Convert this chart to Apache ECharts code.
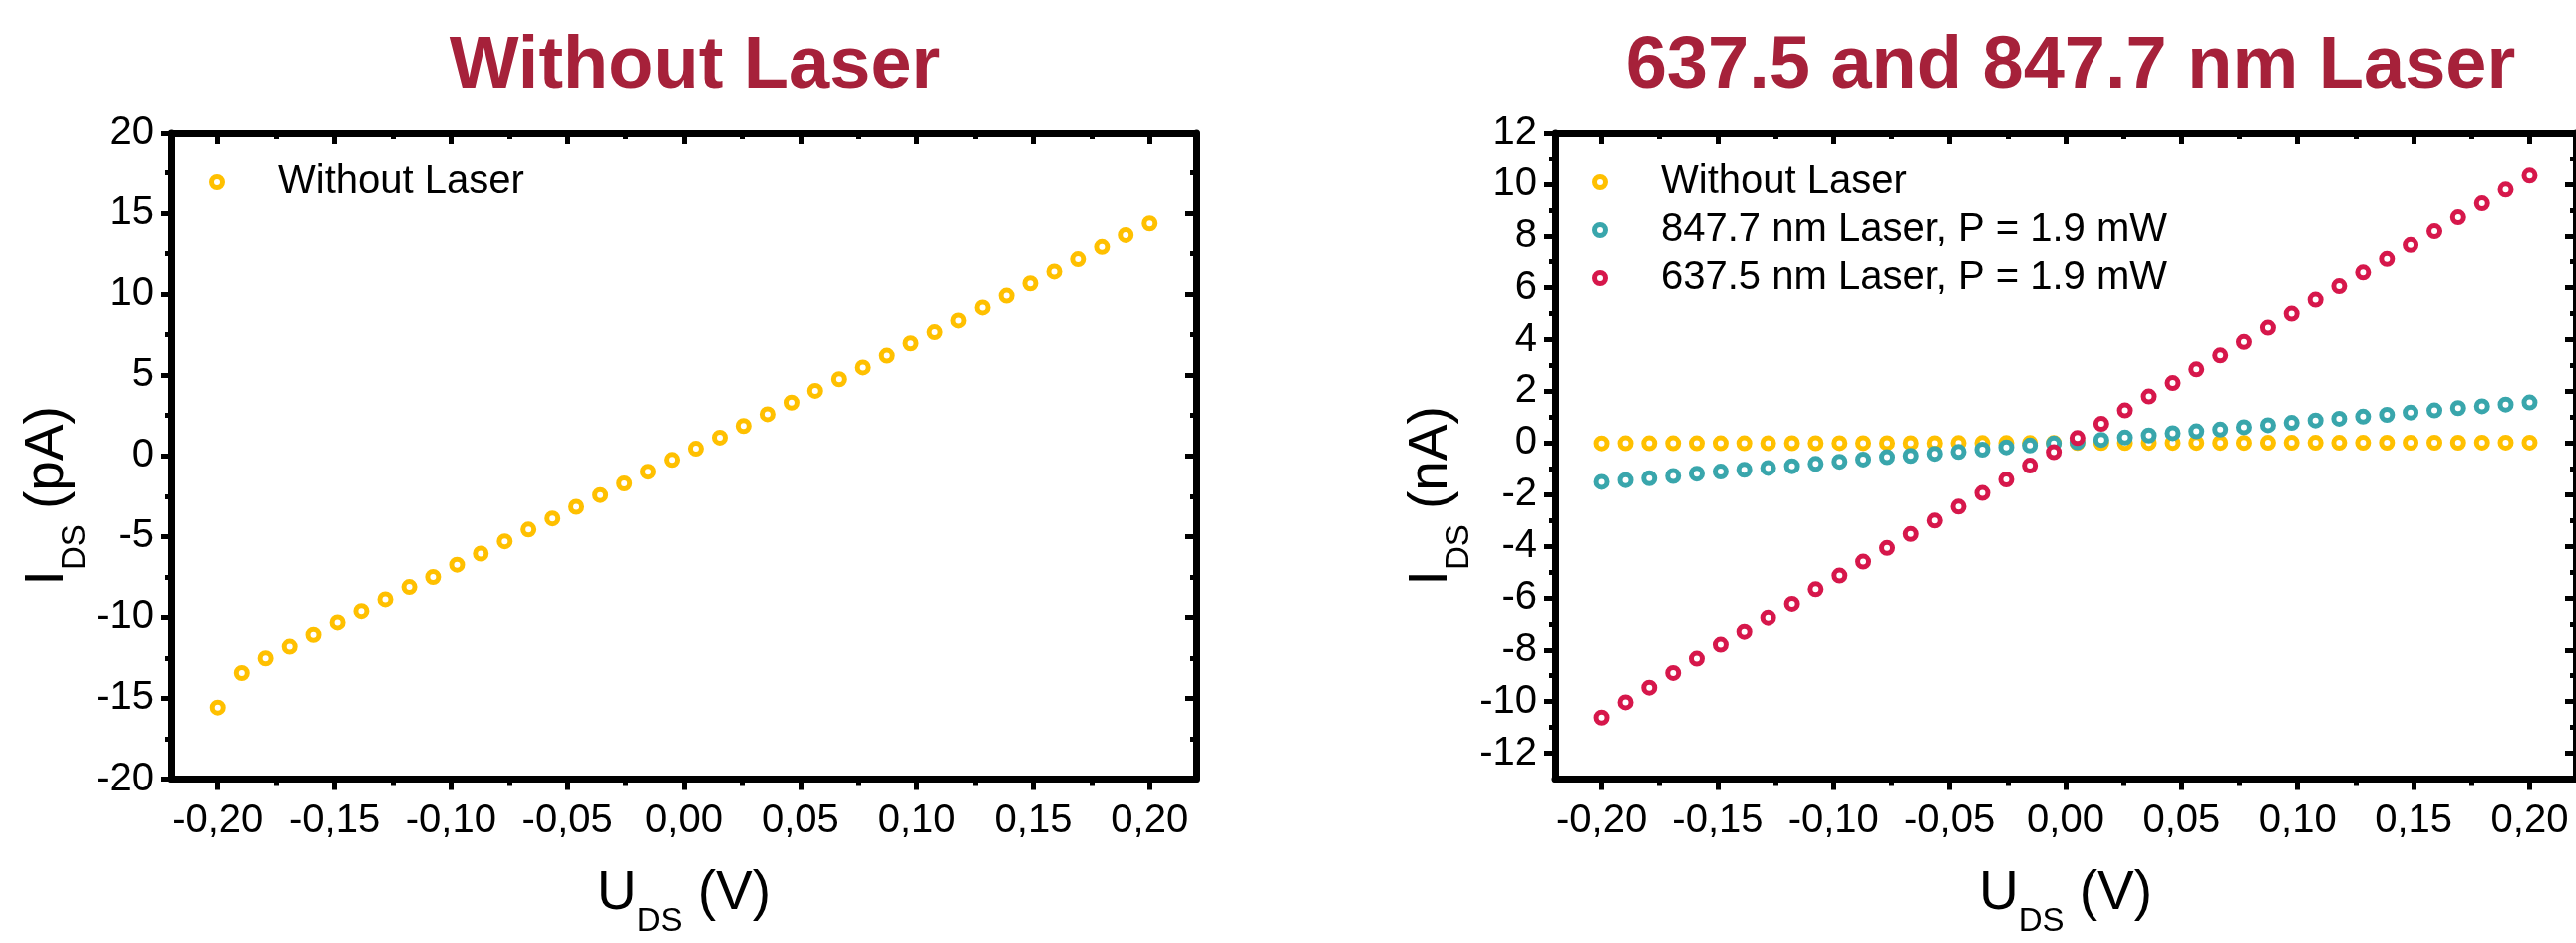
<!DOCTYPE html>
<html>
<head>
<meta charset="utf-8">
<script src="https://cdn.jsdelivr.net/npm/echarts@6/dist/echarts.min.js"></script>
<style>
  html, body { margin: 0; padding: 0; background: #fff; }
  #chart { width: 2584px; height: 946px; }
</style>
</head>
<body>
<div id="chart"></div>
<script>
// U_DS sweep, 40 points from -0.20 to 0.20 V
const uds = [
  -0.2000, -0.1897, -0.1795, -0.1692, -0.1590, -0.1487, -0.1385, -0.1282, -0.1179, -0.1077,
  -0.0974, -0.0872, -0.0769, -0.0667, -0.0564, -0.0462, -0.0359, -0.0256, -0.0154, -0.0051,
  0.0051, 0.0154, 0.0256, 0.0359, 0.0462, 0.0564, 0.0667, 0.0769, 0.0872, 0.0974,
  0.1077, 0.1179, 0.1282, 0.1385, 0.1487, 0.1590, 0.1692, 0.1795, 0.1897, 0.2000
]

// left panel, pA
const darkPA = [
  -15.57, -13.43, -12.52, -11.80, -11.07, -10.31, -9.62, -8.89, -8.13, -7.51,
  -6.75, -6.06, -5.30, -4.57, -3.88, -3.16, -2.43, -1.71, -0.98, -0.25,
  0.44, 1.13, 1.85, 2.58, 3.30, 4.03, 4.75, 5.48, 6.21, 6.97,
  7.66, 8.38, 9.18, 9.91, 10.67, 11.40, 12.16, 12.92, 13.65, 14.37
]

// right panel, nA
const darkNA = [
  -0.016, -0.013, -0.013, -0.012, -0.011, -0.010, -0.010, -0.009, -0.008, -0.008,
  -0.007, -0.006, -0.005, -0.005, -0.004, -0.003, -0.002, -0.002, -0.001, 0.000,
  0.000, 0.001, 0.002, 0.003, 0.003, 0.004, 0.005, 0.005, 0.006, 0.007,
  0.008, 0.008, 0.009, 0.010, 0.011, 0.011, 0.012, 0.013, 0.014, 0.014
]
const ir847 = [
  -1.51, -1.44, -1.37, -1.28, -1.19, -1.11, -1.04, -0.97, -0.90, -0.81,
  -0.73, -0.64, -0.55, -0.50, -0.42, -0.35, -0.26, -0.17, -0.10, -0.02,
  0.03, 0.12, 0.21, 0.29, 0.38, 0.45, 0.52, 0.61, 0.69, 0.78,
  0.87, 0.94, 1.02, 1.09, 1.18, 1.26, 1.35, 1.42, 1.49, 1.57
]
const red637 = [
  -10.62, -10.03, -9.46, -8.89, -8.34, -7.80, -7.30, -6.76, -6.23, -5.67,
  -5.14, -4.60, -4.07, -3.53, -3.01, -2.47, -1.94, -1.42, -0.88, -0.36,
  0.19, 0.74, 1.26, 1.80, 2.32, 2.85, 3.39, 3.91, 4.46, 5.00,
  5.54, 6.06, 6.59, 7.11, 7.65, 8.18, 8.72, 9.26, 9.79, 10.33
]

// ticks
const xTicks = [-0.20, -0.15, -0.10, -0.05, 0.00, 0.05, 0.10, 0.15, 0.20]
const xMinor = [-0.175, -0.125, -0.075, -0.025, 0.025, 0.075, 0.125, 0.175]
const yTicksPA = [-20, -15, -10, -5, 0, 5, 10, 15, 20]
const yMinorPA = [-17.5, -12.5, -7.5, -2.5, 2.5, 7.5, 12.5, 17.5]
const yTicksNA = [-12, -10, -8, -6, -4, -2, 0, 2, 4, 6, 8, 10, 12]
const yMinorNA = [-11, -9, -7, -5, -3, -1, 1, 3, 5, 7, 9, 11]

const titles = ['Without Laser', '637.5 and 847.7 nm Laser']
const names = ['Without Laser', '847.7 nm Laser, P = 1.9 mW', '637.5 nm Laser, P = 1.9 mW']
const colors = ['#FFC000', '#39A6AC', '#D6174B']

const FONT = '"Liberation Sans", Arial, sans-serif'
const black = '#000'

const chart = echarts.init(document.getElementById('chart'))

const pairs = (xs, ys) => xs.map((x, i) => [x, ys[i]])

// one side of the frame: major or minor ticks, labels only on left/bottom
const frameAxis = (gridIndex, position, min, max, values, minor, labels, fmt) => ({
  type: 'value',
  gridIndex,
  position,
  min,
  max,
  splitLine: { show: false },
  axisLine: { show: !minor, onZero: false, lineStyle: { color: black, width: 7 } },
  axisTick: {
    show: true,
    inside: !labels,
    customValues: values,
    length: minor ? 6 : 11,
    lineStyle: { color: black, width: 5 }
  },
  axisLabel: labels && !minor ? {
    show: true,
    customValues: values,
    formatter: fmt,
    color: black,
    fontFamily: FONT,
    fontSize: 40,
    margin: (position === 'bottom') ? 22 : 18
  } : { show: false },
  z: 1
})

const fmtX = v => v.toFixed(2).replace('.', ',')
const fmtY = v => String(v)

// I_DS / U_DS with the subscript dropped below the baseline
const axisName = (unit, vertical) => ({
  name: '{m|' + unit[0] + '}{s|DS}{m| (' + unit.slice(1) + ')}',
  nameLocation: 'middle',
  nameTextStyle: {
    padding: vertical ? [0, 80, 0, 0] : 0,
    rich: {
      m: { fontFamily: FONT, fontSize: 55, color: black, lineHeight: 66 },
      s: { fontFamily: FONT, fontSize: 33, color: black, lineHeight: 66, padding: [56, 0, 0, 0] }
    }
  }
})

const xRange = [-0.22, 0.22]

const xAxis = []
const yAxis = []
;[0, 1].forEach(g => {
  xAxis.push(Object.assign(frameAxis(g, 'bottom', xRange[0], xRange[1], xTicks, false, true, fmtX),
    axisName('UV', false), { nameGap: 82 }))
  xAxis.push(frameAxis(g, 'bottom', xRange[0], xRange[1], xMinor, true, true))
  xAxis.push(frameAxis(g, 'top', xRange[0], xRange[1], xTicks, false, false))
  xAxis.push(frameAxis(g, 'top', xRange[0], xRange[1], xMinor, true, false))
})
yAxis.push(Object.assign(frameAxis(0, 'left', -20, 20, yTicksPA, false, true, fmtY),
  axisName('IpA', true), { nameGap: 82 }))
yAxis.push(frameAxis(0, 'left', -20, 20, yMinorPA, true, true))
yAxis.push(frameAxis(0, 'right', -20, 20, yTicksPA, false, false))
yAxis.push(frameAxis(0, 'right', -20, 20, yMinorPA, true, false))
yAxis.push(Object.assign(frameAxis(1, 'left', -13, 12, yTicksNA, false, true, fmtY),
  axisName('InA', true), { nameGap: 90 }))
yAxis.push(frameAxis(1, 'left', -13, 12, yMinorNA, true, true))
yAxis.push(frameAxis(1, 'right', -13, 12, yTicksNA, false, false))
yAxis.push(frameAxis(1, 'right', -13, 12, yMinorNA, true, false))

const ring = (name, color, xi, yi, data) => ({
  name,
  type: 'scatter',
  xAxisIndex: xi,
  yAxisIndex: yi,
  data,
  symbol: 'circle',
  symbolSize: 11,
  itemStyle: { color: '#fff', borderColor: color, borderWidth: 5, opacity: 1 },
  z: 3
})

const legendBase = {
  orient: 'vertical',
  itemWidth: 112,
  itemHeight: 11,
  itemGap: 0,
  icon: 'circle',
  itemStyle: { borderWidth: 5 },
  textStyle: { fontFamily: FONT, fontSize: 40, color: black, lineHeight: 48 },
  selectedMode: false
}

const heading = (text, x) => ({
  type: 'text',
  x,
  y: 68,
  style: {
    text,
    fill: '#A6213A',
    font: 'bold 74px "Liberation Sans", Arial, sans-serif',
    align: 'center',
    verticalAlign: 'middle'
  }
})

const option = {
  backgroundColor: '#fff',
  animation: false,
  graphic: [heading(titles[0], 697), heading(titles[1], 2077)],
  legend: [
    Object.assign({ left: 205, top: 154, data: [names[0]] }, legendBase),
    Object.assign({ left: 1592, top: 154, data: names }, legendBase)
  ],
  grid: [
    { left: 172, top: 133, width: 1028, height: 661 },
    { left: 1560, top: 133, width: 1029, height: 661 }
  ],
  xAxis,
  yAxis,
  series: [
    ring(names[0], colors[0], 0, 0, pairs(uds, darkPA)),
    ring(names[0], colors[0], 4, 4, pairs(uds, darkNA)),
    ring(names[1], colors[1], 4, 4, pairs(uds, ir847)),
    ring(names[2], colors[2], 4, 4, pairs(uds, red637))
  ]
}

chart.setOption(option)
window.addEventListener('resize', () => chart.resize())
</script>
</body>
</html>
